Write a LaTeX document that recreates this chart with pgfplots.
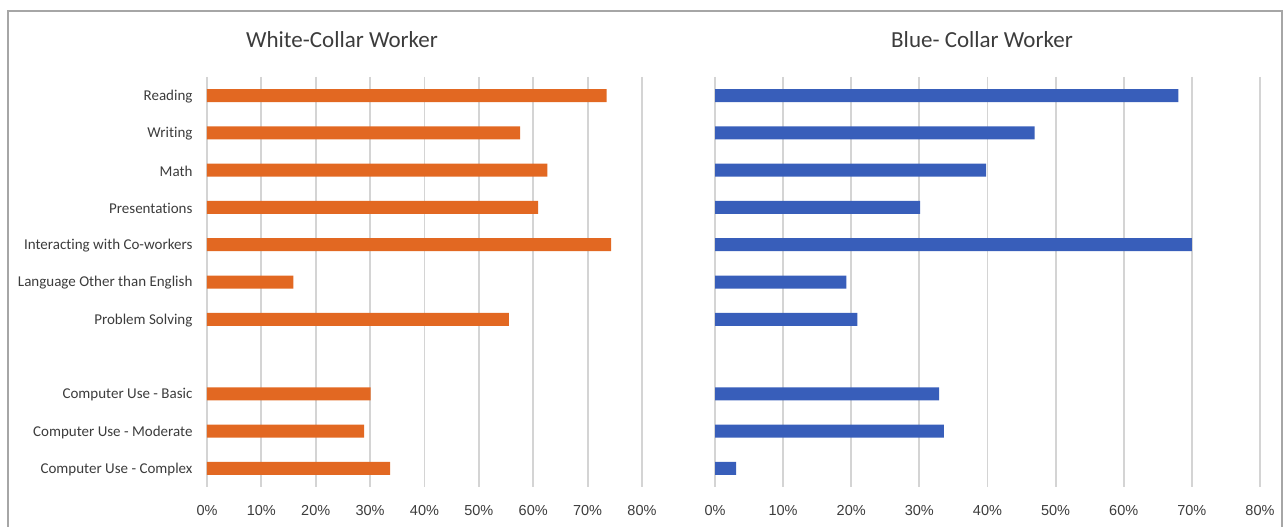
\documentclass[border=0pt]{standalone}
\usepackage{pgfplots}
\pgfplotsset{compat=1.18}
\usepackage{fontspec}
\setmainfont{Carlito}[Ligatures=NoCommon]
\newfontfamily\tickfont{Liberation Sans}
\definecolor{worange}{RGB}{226,104,34}
\definecolor{bblue}{RGB}{56,94,186}
\definecolor{gridc}{RGB}{212,212,212}
\definecolor{txt}{RGB}{60,60,60}
\definecolor{framec}{RGB}{166,166,166}
\pgfplotsset{
 panel/.style={
  scale only axis, anchor=south west,
  height=410pt, xmin=0, xmax=0.8, ymin=-0.5, ymax=10.5, y dir=reverse,
  xbar, bar width=13pt, bar shift=0pt,
  axis line style={draw=none}, major tick length=0pt,
  xtick={0,0.1,0.2,0.3,0.4,0.5,0.6,0.7,0.8},
  xticklabels={0\%,10\%,20\%,30\%,40\%,50\%,60\%,70\%,80\%},
  xmajorgrids, grid style={gridc, line width=1.8pt},
  ytick={0,1,2,3,4,5,6,8,9,10},
  ticklabel style={text=txt},
  xticklabel style={font=\tickfont\fontsize{14.5}{17}\selectfont, yshift=-15pt},
  clip=false,
 }
}
\begin{document}
\begin{tikzpicture}
\useasboundingbox (0,0) rectangle (1283pt,527pt);
\draw[framec, line width=1.5pt] (8pt,-20pt) rectangle (1282pt,516pt);
\begin{axis}[panel, at={(207pt,40pt)}, width=435pt,
  yticklabels={Reading, Writing, Math, Presentations, Interacting with Co-workers, Language Other than English, Problem Solving, Computer Use - Basic, Computer Use - Moderate, Computer Use - Complex},
  yticklabel style={font=\fontsize{15}{18}\selectfont, xshift=-11pt, yshift=-1pt}]
\addplot[fill=worange, draw=none] coordinates {(0.735,0) (0.576,1) (0.626,2) (0.609,3) (0.743,4) (0.159,5) (0.555,6) (0.301,8) (0.289,9) (0.337,10)};
\end{axis}
\begin{axis}[panel, at={(715pt,40pt)}, width=545pt, yticklabels={}]
\addplot[fill=bblue, draw=none] coordinates {(0.680,0) (0.469,1) (0.398,2) (0.301,3) (0.700,4) (0.193,5) (0.209,6) (0.329,8) (0.336,9) (0.031,10)};
\end{axis}
\node[font=\fontsize{23}{27}\selectfont, text=txt] at (342pt,487pt) {White-Collar Worker};
\node[font=\fontsize{23}{27}\selectfont, text=txt] at (982pt,487pt) {Blue- Collar Worker};
\end{tikzpicture}
\end{document}
